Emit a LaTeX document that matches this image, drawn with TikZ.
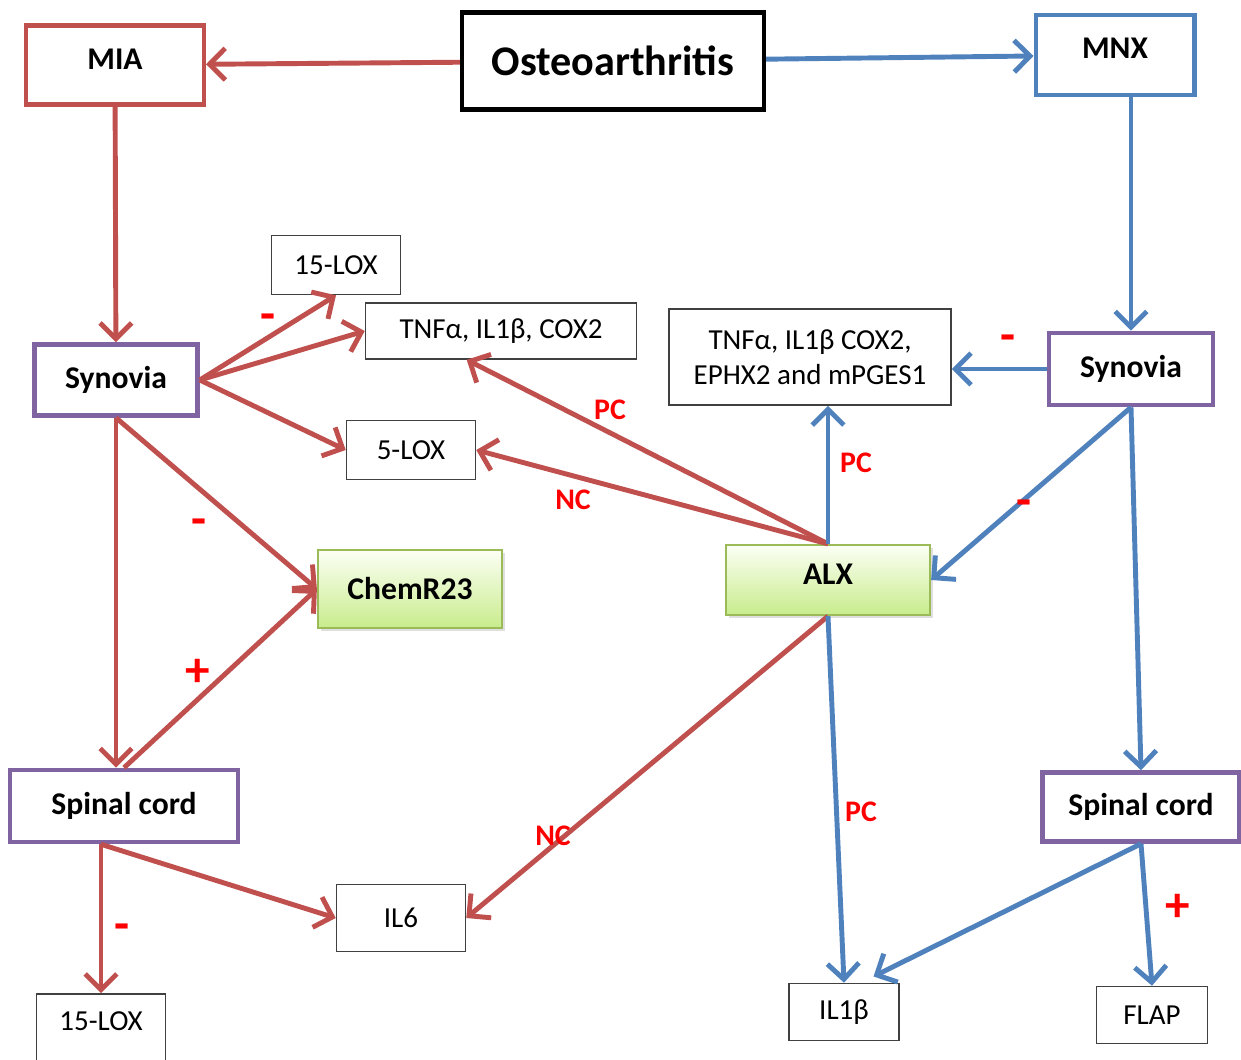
\documentclass[tikz,border=0pt]{standalone}
\usepackage{fontspec}
\setmainfont{Carlito}
\usetikzlibrary{arrows.meta,shadows}

\definecolor{oared}{HTML}{C0504D}
\definecolor{oablue}{HTML}{4F81BD}
\definecolor{oapurple}{HTML}{8064A2}
\definecolor{oagreen}{HTML}{9BBB59}

\begin{document}
\begin{tikzpicture}[x=0.02cm,y=-0.02cm,
        every node/.style={rectangle,draw,inner sep=2pt},
        model/.style={line width=2.3pt,font=\fontsize{18}{21}\selectfont\bfseries},
        tissue/.style={draw=oapurple,line width=2.6pt,font=\fontsize{18}{21}\selectfont\bfseries},
        marker/.style={draw=black!75,line width=0.9pt,font=\fontsize{16.5}{20}\selectfont,align=center},
        receptor/.style={draw=oagreen,line width=1.3pt,top color=green!6!lime!4!white,
            bottom color={rgb,255:red,200;green,236;blue,140},
            drop shadow={opacity=0.25,shadow xshift=1.5pt,shadow yshift=-1.5pt},
            font=\fontsize{18}{21}\selectfont\bfseries},
        sign/.style={draw=none,inner sep=0pt,text=red,font=\fontsize{17}{20}\selectfont\bfseries},
        bigsign/.style={draw=none,inner sep=0pt,text=red,font=\fontsize{28}{30}\selectfont\bfseries},
        redarrow/.style={draw=oared,line width=2.8pt,-{Straight Barb[length=9pt,width=18pt]}},
        bluearrow/.style={draw=oablue,line width=2.8pt,-{Straight Barb[length=9pt,width=18pt]}}
    ]
    \useasboundingbox (0,0) rectangle (1241,1059);

    % disease and the two models
    \node[line width=2.4pt,minimum width=60.4mm,minimum height=19.4mm,
          font=\fontsize{24}{28}\selectfont\bfseries] (oa) at (613,61) {Osteoarthritis};
    \node[model,draw=oared,minimum width=35.6mm,minimum height=15.8mm,text depth=6pt] (mia) at (115,65) {MIA};
    \node[model,draw=oablue,minimum width=31.8mm,minimum height=16mm,text depth=8pt] (mnx) at (1115,55) {MNX};

    % tissues
    \node[tissue,minimum width=32.6mm,minimum height=14.2mm] (synl) at (116,380) {Synovia};
    \node[tissue,minimum width=45.6mm,minimum height=14.4mm] (spinl) at (124,806) {Spinal cord};
    \node[tissue,minimum width=32.8mm,minimum height=14.4mm] (synr) at (1131,369) {Synovia};
    \node[tissue,minimum width=39.4mm,minimum height=13.8mm] (spinr) at (1141,807) {Spinal cord};

    % receptors
    \node[receptor,minimum width=36.8mm,minimum height=15.6mm] (chem) at (410,589) {ChemR23};
    \node[receptor,minimum width=40.8mm,minimum height=14mm,text depth=6pt] (alx) at (828,580) {ALX};

    % markers
    \node[marker,minimum width=25.8mm,minimum height=11.8mm] (loxa) at (336,265) {15-LOX};
    \node[marker,minimum width=54.2mm,minimum height=11.2mm] (tnfl) at (501,331) {TNFα, IL1β, COX2};
    \node[marker,minimum width=25.8mm,minimum height=11.8mm] (lox5) at (411,450) {5-LOX};
    \node[marker,minimum width=56.4mm,minimum height=19.2mm] (tnfr) at (810,357) {TNFα, IL1β COX2,\\EPHX2 and mPGES1};
    \node[marker,minimum width=25.8mm,minimum height=13.4mm] (il6) at (401,918) {IL6};
    \node[marker,minimum width=25.8mm,minimum height=14.4mm,text depth=10pt] (loxb) at (101,1030) {15-LOX};
    \node[marker,minimum width=22mm,minimum height=11.4mm] (il1b) at (844,1012) {IL1β};
    \node[marker,minimum width=22.2mm,minimum height=11.4mm] (flap) at (1152,1015) {FLAP};

    % MIA side
    \draw[redarrow] (oa) -- (mia);
    \draw[redarrow] (mia) -- (synl);
    \draw[redarrow] (synl.east) -- (loxa.south);
    \draw[redarrow] (synl.east) -- (tnfl.west);
    \draw[redarrow] (synl.east) -- (lox5.west);
    \draw[redarrow] (synl.south) -- (chem.west);
    \draw[redarrow] (synl.south) -- (synl.south |- spinl.north);
    \draw[redarrow] (spinl.north) -- (chem.west);
    \coordinate (sc) at (loxb.north |- spinl.south);
    \draw[redarrow] (sc) -- (loxb.north);
    \draw[redarrow] (sc) -- (il6.west);
    \draw[redarrow] (alx.north) -- (tnfl.220);
    \draw[redarrow] (alx.north) -- (lox5.east);
    \draw[redarrow] (alx.south) -- (il6.east);

    % MNX side
    \draw[bluearrow] (oa) -- (mnx);
    \draw[bluearrow] (mnx.south -| synr.north) -- (synr.north);
    \draw[bluearrow] (synr.west) -- (synr.west -| tnfr.east);
    \draw[bluearrow] (synr.south) -- (alx.east);
    \draw[bluearrow] (synr.south) -- (spinr.north);
    \draw[bluearrow] (alx.north) -- (alx.north |- tnfr.south);
    \draw[bluearrow] (alx.south) -- (il1b.north);
    \draw[bluearrow,shorten >=8pt] (spinr.south) -- (il1b.60);
    \draw[bluearrow] (spinr.south) -- (flap.north);

    % signs on the arrows
    \node[bigsign] (s1) at (268,322) {-};
    \node[bigsign] (s2) at (199,527) {-};
    \node[bigsign] (s3) at (198,673) {+};
    \node[bigsign] (s4) at (122,932) {-};
    \node[bigsign] (s5) at (1008,343) {-};
    \node[bigsign] (s6) at (1024,508) {-};
    \node[bigsign] (s7) at (1178,908) {+};
    \node[sign] (pc1) at (610,410) {PC};
    \node[sign] (nc1) at (573,500) {NC};
    \node[sign] (nc2) at (553,836) {NC};
    \node[sign] (pc2) at (856,463) {PC};
    \node[sign] (pc3) at (861,812) {PC};
\end{tikzpicture}
\end{document}
